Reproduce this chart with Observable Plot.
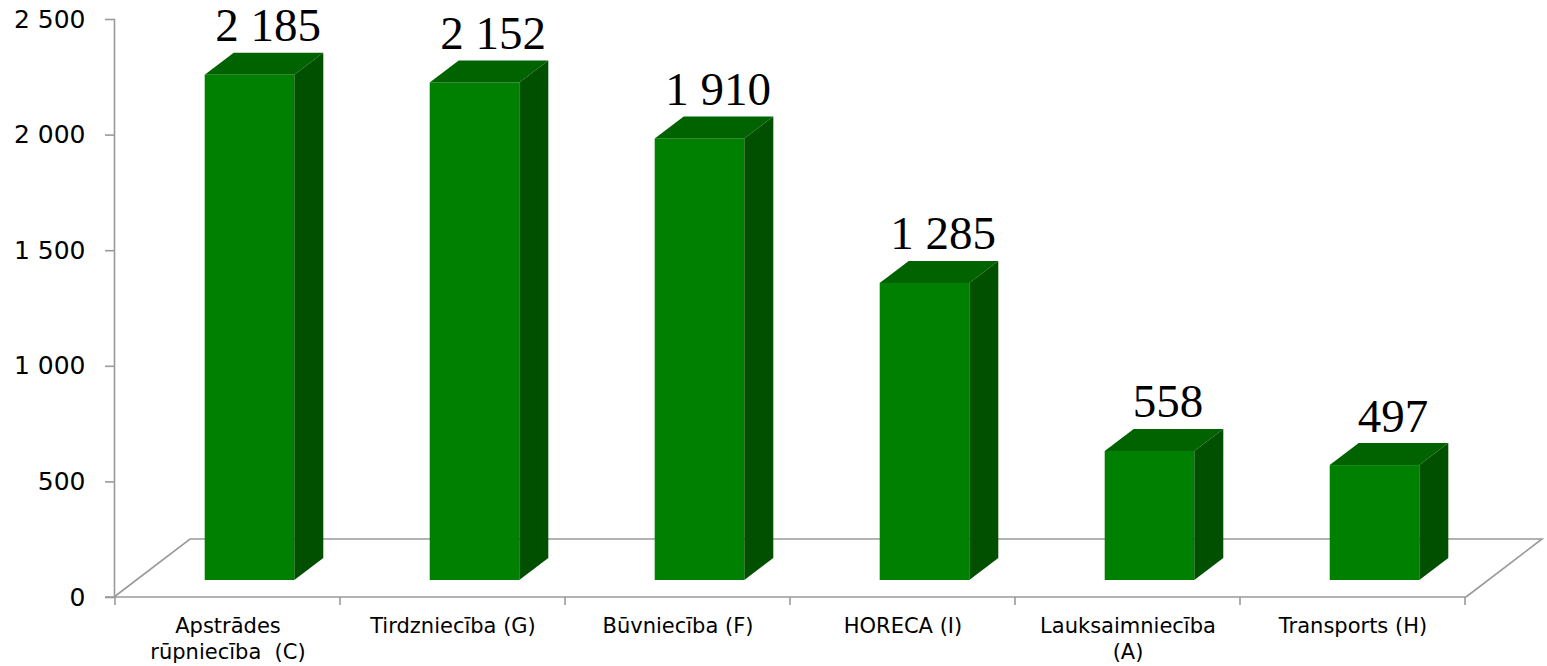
<!DOCTYPE html>
<html>
<head>
<meta charset="utf-8">
<script src="https://cdn.jsdelivr.net/npm/d3@7"></script>
<script src="https://cdn.jsdelivr.net/npm/@observablehq/plot@0.6"></script>
<style>
  html, body { margin: 0; padding: 0; background: #fff; }
  #chart svg { display: block; }
</style>
</head>
<body>
<div id="chart"></div>
<script>
// ---- Data ----
const categories = ["Apstrādes rūpniecība  (C)", "Tirdzniecība (G)", "Būvniecība (F)", "HORECA (I)", "Lauksaimniecība (A)", "Transports (H)"];
const axisLabels = ["Apstrādes\nrūpniecība\u00a0 (C)", "Tirdzniecība (G)", "Būvniecība (F)", "HORECA (I)", "Lauksaimniecība\n(A)", "Transports (H)"];
const counts = [2185, 2152, 1910, 1285, 558, 497];
const yTicks = [0, 500, 1000, 1500, 2000, 2500];

const data = categories.map((c, i) => ({category: c, value: counts[i]}));

// ---- Style / geometry of the pseudo-3D look ----
const gray = "#9a9a9a";
const frontColor = "#008000";
const topColor = "#006300";
const sideColor = "#005000";
const barInset = 67.7;          // gives a bar width of ~0.4 band
const barDx = 22, barDy = -17;  // bars stand inside the floor
const depthDx = 29, depthDy = -22; // bar depth
const floorDx = 76, floorDy = -58; // floor depth

const spaceFmt = d => d3.format(",")(d).replace(/,/g, " ");
const labelOf = new Map(categories.map((c, i) => [c, axisLabels[i]]));

function floorMark(index, scales, vals, dims) {
  const g = d3.create("svg:g").attr("fill", "none").attr("stroke", gray).attr("stroke-width", 1.6);
  const x0 = dims.marginLeft, x1 = dims.width - dims.marginRight;
  const y0 = scales.y(0);
  g.append("path")
    .attr("d", `M${x0},${y0}L${x0 + floorDx},${y0 + floorDy}L${x1 + floorDx},${y0 + floorDy}L${x1},${y0}`);
  // x-axis line (front edge of the floor)
  g.append("path").attr("d", `M${x0 - 9},${y0}H${x1}`);
  // category boundary ticks
  const bw = scales.x.bandwidth ? scales.x.bandwidth() : (x1 - x0) / categories.length;
  const bounds = categories.map(c => scales.x(c)).concat([scales.x(categories[categories.length - 1]) + bw]);
  for (const bx of bounds) g.append("path").attr("d", `M${bx},${y0}V${y0 + 8}`);
  return g.node();
}

function faceMark(index, scales) {
  const g = d3.create("svg:g");
  const bw = scales.x.bandwidth();
  const yb = scales.y(0) + barDy;
  data.forEach(d => {
    const xl = scales.x(d.category) + barInset + barDx;
    const xr = scales.x(d.category) + bw - barInset + barDx;
    const yt = scales.y(d.value) + barDy;
    g.append("path")
      .attr("d", `M${xl},${yt}L${xl + depthDx},${yt + depthDy}L${xr + depthDx},${yt + depthDy}L${xr},${yt}Z`)
      .attr("fill", topColor);
    g.append("path")
      .attr("d", `M${xr},${yt}L${xr + depthDx},${yt + depthDy}L${xr + depthDx},${yb + depthDy}L${xr},${yb}Z`)
      .attr("fill", sideColor);
  });
  return g.node();
}

const chart = Plot.plot({
  width: 1547,
  height: 666,
  marginLeft: 114,
  marginRight: 81,
  marginTop: 19,
  marginBottom: 69,
  style: {fontFamily: "'DejaVu Sans', Verdana, sans-serif", background: "#fff", color: "#000"},
  x: {domain: categories, padding: 0, axis: null, label: null},
  y: {domain: [0, 2500], axis: null, label: null},
  marks: [
    floorMark,
    Plot.barY(data, {
      x: "category", y: "value", fill: frontColor,
      insetLeft: barInset, insetRight: barInset, dx: barDx, dy: barDy
    }),
    faceMark,
    Plot.frame({anchor: "left", stroke: gray, strokeWidth: 1.6}),
    Plot.axisY({
      ticks: yTicks, tickFormat: spaceFmt, tickSize: 9, tickPadding: 20, label: null,
      stroke: gray, strokeWidth: 1.6, fill: "#000", fontSize: 25
    }),
    Plot.axisX({
      tickSize: 0, tickPadding: 17, fontSize: 21, lineHeight: 1.24, label: null,
      tickFormat: c => labelOf.get(c), fill: "#000"
    }),
    Plot.text(data, {
      x: "category", y: "value", text: d => spaceFmt(d.value),
      dx: 40, dy: -51, lineAnchor: "bottom",
      fontFamily: "'Liberation Serif', 'Times New Roman', serif", fontSize: 47, fill: "#000"
    })
  ]
});

document.getElementById("chart").appendChild(chart);
</script>
</body>
</html>
